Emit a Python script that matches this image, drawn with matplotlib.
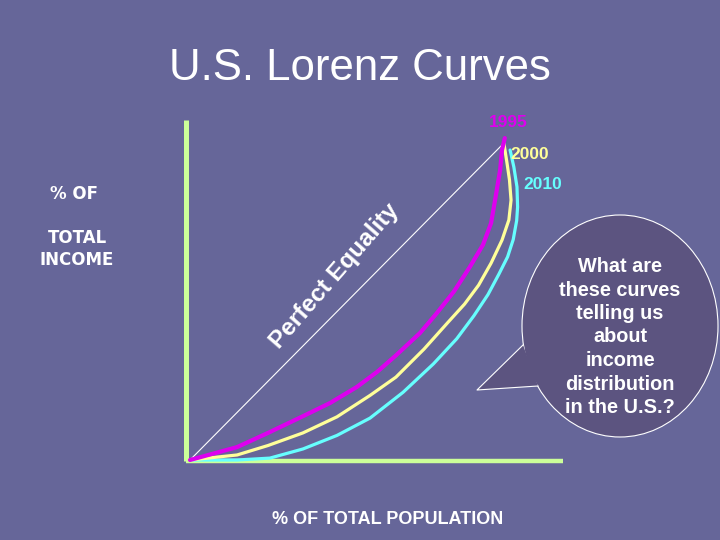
import matplotlib
matplotlib.use("Agg")
import matplotlib.pyplot as plt
from matplotlib.patches import Ellipse, Polygon

plt.rcParams['font.family'] = ['Liberation Sans', 'DejaVu Sans']

# cumulative % of population vs % of income
pop_1995 = [0, 15.1, 25.0, 36.2, 44.9, 53.5, 60.0, 66.0, 73.7, 79.0, 84.6, 89.7, 93.9, 96.5, 97.9, 99.4, 100.0, 100.9]
inc_1995 = [0, 4.1, 8.6, 13.9, 18.1, 23.2, 28.0, 33.2, 40.3, 46.5, 53.5, 61.3, 68.3, 75.2, 83.2, 92.1, 98.4, 102.2]

pop_2000 = [0, 15.1, 25.0, 36.2, 47.1, 57.7, 66.0, 75.0, 82.5, 88.0, 92.5, 96.5, 100.0, 102.2, 102.9, 102.4, 101.6, 100.6]
inc_2000 = [0, 1.6, 4.6, 8.6, 13.7, 20.5, 26.3, 35.2, 43.5, 49.5, 55.5, 62.5, 69.8, 76.2, 82.5, 88.9, 94.3, 100.6]

pop_2010 = [0, 15.1, 25.6, 36.2, 47.1, 57.7, 68.3, 78.0, 85.5, 91.0, 95.5, 99.0, 101.8, 103.6, 104.7, 105.0, 104.8, 103.8, 102.6]
inc_2010 = [0, 0, 0.6, 3.5, 7.8, 13.3, 21.5, 30.5, 38.5, 45.8, 52.5, 59.0, 64.5, 70.0, 76.0, 80.3, 86.7, 93.0, 98.4]

years = ['1995', '2000', '2010']
colors = ['#DD00EE', '#FFFF99', '#66FFFF']
widths = [3.0, 2.3, 2.3]

bg = '#666699'
axis_green = '#CCFF99'

fig = plt.figure(figsize=(7.2, 5.4), dpi=100, facecolor=bg)

# overlay in pixel coordinates for slide decorations
deco = fig.add_axes([0, 0, 1, 1])
deco.set_xlim(0, 720)
deco.set_ylim(540, 0)
deco.axis('off')
deco.set_facecolor(bg)

# chart area: x 0..100 -> px 190..502, y 0..100 -> py 460..145
ax = fig.add_axes([190 / 720, (540 - 460) / 540, 312 / 720, 315 / 540])
ax.set_xlim(0, 100)
ax.set_ylim(0, 100)
ax.axis('off')
ax.patch.set_alpha(0)

# axes lines
ax.plot([-1.3, -1.3], [-0.4, 107.9], color=axis_green, lw=3.6, clip_on=False, solid_capstyle='butt')
ax.plot([-1.3, 119.6], [-0.4, -0.4], color=axis_green, lw=3.2, clip_on=False, solid_capstyle='butt')

# line of perfect equality
ax.plot([0, 100], [0, 100], color='white', lw=0.8, clip_on=False)
ax.text(46.2, 58.4, 'Perfect Equality', rotation=49, rotation_mode='anchor',
        ha='center', va='center', color='white', fontsize=17.5, fontweight='bold')

curves = [(pop_1995, inc_1995), (pop_2000, inc_2000), (pop_2010, inc_2010)]
for (xs, ys), c, w in zip(curves[::-1], colors[::-1], widths[::-1]):
    ax.plot(xs, ys, color=c, lw=w, clip_on=False, solid_capstyle='round', solid_joinstyle='round')

label_pos = [(101.9, 107.3), (109.0, 97.1), (113.1, 87.6)]
for yr, c, (lx, ly) in zip(years, colors, label_pos):
    ax.text(lx, ly, yr, color=c, fontsize=12.5, fontweight='bold', ha='center', va='center')

# titles and axis captions
deco.text(360, 68, 'U.S. Lorenz Curves', color='white', fontsize=31.5, ha='center', va='center')
deco.text(74, 194, '% OF', color='white', fontsize=12, fontweight='bold', ha='center', va='center',
          family='DejaVu Sans')
deco.text(77, 249, 'TOTAL\nINCOME', color='white', fontsize=12, fontweight='bold',
          ha='center', va='center', linespacing=1.3, family='DejaVu Sans')
deco.text(388, 519, '% OF TOTAL POPULATION', color='white', fontsize=13, fontweight='bold',
          ha='center', va='center')

# speech bubble
bubble = '#5C5480'
deco.add_patch(Ellipse((620, 326), 196, 222, facecolor=bubble, edgecolor='white', lw=0.8))
tail = [(523, 345), (477, 390), (538, 386)]
deco.add_patch(Polygon(tail, closed=True, facecolor=bubble, edgecolor='none'))
deco.plot([523, 477, 538], [345, 390, 386], color='white', lw=0.8)
deco.text(620, 337, 'What are\nthese curves\ntelling us\nabout\nincome\ndistribution\nin the U.S.?',
          color='white', fontsize=14.3, fontweight='bold', ha='center', va='center', linespacing=1.3)

fig.savefig('out.png', dpi=100, facecolor=bg)
